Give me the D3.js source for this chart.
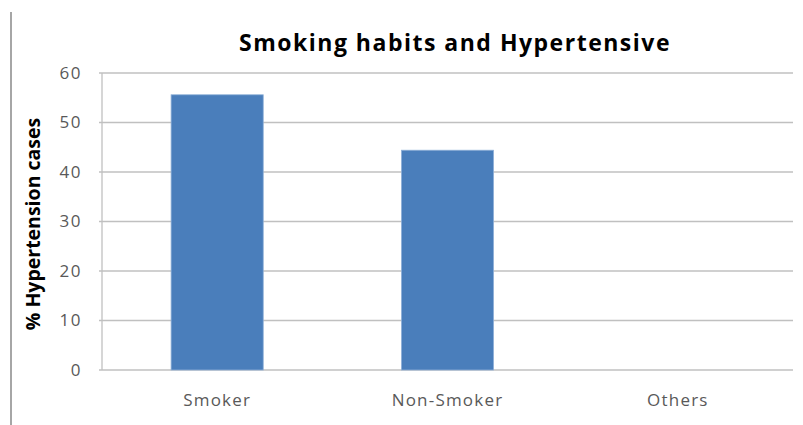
<!DOCTYPE html>
<html><head><meta charset="utf-8">
<script src="https://cdn.jsdelivr.net/npm/d3@7"></script>
<style>body{margin:0;background:#fff}svg{display:block}</style>
</head><body><svg id="c" width="803" height="425"></svg>
<script>
const categories = ["Smoker", "Non-Smoker", "Others"];
const values = [55.6, 44.4, 0];
const yTicks = [0, 10, 20, 30, 40, 50, 60];
const title = "Smoking habits and Hypertensive";
const yLabel = "% Hypertension cases";

const svg = d3.select("#c");
const m = {left: 102, right: 10, top: 73, bottom: 55};
const W = 803, H = 425;
const font = "'Open Sans', 'Liberation Sans', sans-serif";

// left border line
svg.append("line").attr("x1", 11).attr("x2", 11).attr("y1", 12).attr("y2", H)
  .attr("stroke", "#a6a6a6").attr("stroke-width", 2);

const x = d3.scaleBand().domain(categories).range([m.left, W - m.right]).paddingInner(0.6).paddingOuter(0.3);
const y = d3.scaleLinear().domain([0, 60]).range([H - m.bottom, m.top]);

// gridlines (with small outward tick marks)
svg.append("g").selectAll("line").data(yTicks).join("line")
  .attr("x1", m.left - 3).attr("x2", W - m.right)
  .attr("y1", d => y(d)).attr("y2", d => y(d))
  .attr("stroke", "#c0c0c0").attr("stroke-width", 1.3);

// y axis line
svg.append("line").attr("x1", m.left).attr("x2", m.left).attr("y1", y(60)).attr("y2", y(0))
  .attr("stroke", "#c0c0c0").attr("stroke-width", 1.3);

// y axis tick labels
const ya = svg.append("g").attr("transform", `translate(${m.left},0)`)
  .call(d3.axisLeft(y).tickValues(yTicks).tickSize(0).tickPadding(20));
ya.select(".domain").remove();
ya.selectAll("text").attr("font-family", font).attr("font-size", 17)
  .attr("letter-spacing", 1.5).attr("fill", "#595959");

// bars
svg.append("g").selectAll("rect").data(values.map((v, i) => ({c: categories[i], v}))).join("rect")
  .attr("x", d => x(d.c)).attr("width", x.bandwidth())
  .attr("y", d => y(d.v)).attr("height", d => y(0) - y(d.v))
  .attr("fill", "#4a7ebb").attr("stroke", "#8fb0d8").attr("stroke-width", 0.8);

// x axis labels
const xa = svg.append("g").attr("transform", `translate(0,${y(0)})`)
  .call(d3.axisBottom(x).tickSize(0).tickPadding(24));
xa.select(".domain").remove();
xa.selectAll("text").attr("font-family", font).attr("font-size", 17)
  .attr("letter-spacing", 1.2).attr("fill", "#595959");

// title
svg.append("text").attr("x", 455).attr("y", 51).attr("text-anchor", "middle")
  .attr("font-family", font).attr("font-weight", "bold").attr("font-size", 23)
  .attr("letter-spacing", 1.5).attr("fill", "#000").text(title);

// y label
svg.append("text").attr("transform", "translate(40,224) rotate(-90)").attr("text-anchor", "middle")
  .attr("font-family", font).attr("font-weight", "bold").attr("font-size", 19.5)
  .attr("fill", "#000").text(yLabel);
</script></body></html>
